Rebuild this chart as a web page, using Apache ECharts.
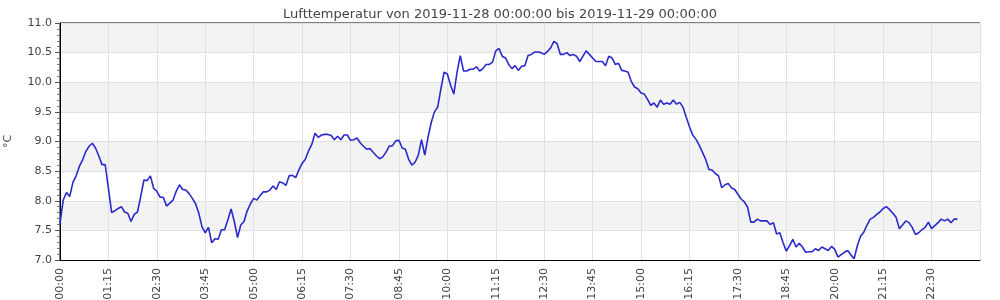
<!DOCTYPE html>
<html>
<head>
<meta charset="utf-8">
<script src="https://cdn.jsdelivr.net/npm/echarts@6/dist/echarts.min.js"></script>
<style>html,body{margin:0;padding:0;background:#fff}#c{width:1000px;height:300px}</style>
</head>
<body>
<div id="c"></div>
<script>
// categories: 5-minute steps from 00:00 to 23:45
const categories = [];
for (let m = 0; m <= 23 * 60 + 45; m += 5) {
  const h = Math.floor(m / 60), mm = m % 60;
  categories.push((h < 10 ? '0' : '') + h + ':' + (mm < 10 ? '0' : '') + mm);
}
const temperature = [
  7.62, 8.01, 8.14, 8.07, 8.31, 8.42, 8.58, 8.69, 8.83, 8.92,
  8.97, 8.89, 8.76, 8.61, 8.61, 8.21, 7.80, 7.83, 7.87, 7.90,
  7.81, 7.79, 7.65, 7.77, 7.81, 8.07, 8.35, 8.34, 8.42, 8.21,
  8.16, 8.06, 8.06, 7.91, 7.96, 8.01, 8.16, 8.27, 8.19, 8.18,
  8.12, 8.04, 7.95, 7.79, 7.56, 7.46, 7.55, 7.29, 7.36, 7.35,
  7.51, 7.51, 7.68, 7.86, 7.65, 7.38, 7.59, 7.65, 7.83, 7.95,
  8.04, 8.01, 8.09, 8.15, 8.15, 8.18, 8.25, 8.19, 8.32, 8.30,
  8.26, 8.42, 8.43, 8.39, 8.52, 8.63, 8.70, 8.84, 8.95, 9.14,
  9.07, 9.11, 9.12, 9.12, 9.10, 9.03, 9.09, 9.03, 9.11, 9.11,
  9.02, 9.03, 9.06, 8.98, 8.92, 8.87, 8.88, 8.82, 8.76, 8.71,
  8.74, 8.82, 8.92, 8.93, 9.01, 9.02, 8.89, 8.87, 8.70, 8.60,
  8.65, 8.77, 9.03, 8.77, 9.07, 9.32, 9.50, 9.58, 9.89, 10.17,
  10.14, 9.95, 9.80, 10.17, 10.45, 10.19, 10.19, 10.22, 10.22, 10.26,
  10.19, 10.23, 10.30, 10.30, 10.34, 10.53, 10.57, 10.44, 10.41, 10.30,
  10.23, 10.28, 10.20, 10.27, 10.28, 10.45, 10.47, 10.51, 10.51, 10.50,
  10.47, 10.52, 10.58, 10.69, 10.65, 10.47, 10.47, 10.50, 10.45, 10.47,
  10.44, 10.35, 10.44, 10.53, 10.47, 10.41, 10.35, 10.35, 10.35, 10.28,
  10.44, 10.41, 10.30, 10.32, 10.20, 10.19, 10.17, 10.01, 9.92, 9.89,
  9.82, 9.80, 9.71, 9.61, 9.65, 9.58, 9.70, 9.63, 9.65, 9.63,
  9.70, 9.63, 9.66, 9.58, 9.41, 9.25, 9.11, 9.04, 8.94, 8.82,
  8.70, 8.53, 8.52, 8.46, 8.42, 8.22, 8.27, 8.29, 8.22, 8.19,
  8.11, 8.03, 7.98, 7.89, 7.64, 7.64, 7.69, 7.66, 7.66, 7.66,
  7.60, 7.63, 7.44, 7.46, 7.29, 7.15, 7.24, 7.35, 7.22, 7.28,
  7.22, 7.13, 7.14, 7.14, 7.19, 7.16, 7.22, 7.19, 7.16, 7.23,
  7.18, 7.05, 7.09, 7.13, 7.16, 7.09, 7.02, 7.24, 7.40, 7.47,
  7.59, 7.69, 7.72, 7.77, 7.81, 7.87, 7.90, 7.85, 7.79, 7.72,
  7.53, 7.59, 7.66, 7.63, 7.55, 7.43, 7.46, 7.51, 7.55, 7.64,
  7.53, 7.58, 7.63, 7.69, 7.66, 7.69, 7.63, 7.69, 7.69
];
const titleText = 'Lufttemperatur von 2019-11-28 00:00:00 bis 2019-11-29 00:00:00';
const unitName = '°C';

const font = 'DejaVu Sans';
const chart = echarts.init(document.getElementById('c'), null, {renderer: 'canvas'});
chart.setOption({
  animation: false,
  backgroundColor: '#fff',
  title: {
    text: titleText, left: 'center', top: 3,
    textStyle: {fontFamily: font, fontSize: 13, fontWeight: 'normal', color: '#444'}
  },
  grid: {left: 60, right: 20, top: 23, bottom: 40, containLabel: false, outerBoundsMode: 'none',
    show: true, borderColor: '#000', borderWidth: 1, backgroundColor: 'transparent'},
  xAxis: {
    type: 'category', data: categories, boundaryGap: false,
    axisLine: {lineStyle: {color: '#000', width: 1}},
    axisTick: {show: false},
    axisLabel: {interval: 14, rotate: 90, margin: 8, fontFamily: font, fontSize: 11, color: '#444', showMaxLabel: false},
    splitLine: {show: true, interval: 14, lineStyle: {color: '#e0e0e0', width: 1}}
  },
  yAxis: {
    type: 'value', min: 7, max: 11, interval: 0.5,
    name: unitName, nameLocation: 'middle', nameGap: 46, nameRotate: 90,
    nameTextStyle: {fontFamily: font, fontSize: 11, color: '#444'},
    axisLine: {show: true, lineStyle: {color: '#000', width: 1}},
    axisTick: {show: true, length: 5, lineStyle: {color: '#555'}},
    minorTick: {show: true, splitNumber: 5, length: 3, lineStyle: {color: '#777'}},
    axisLabel: {fontFamily: font, fontSize: 11, color: '#444', margin: 8, formatter: v => v.toFixed(1)},
    splitLine: {show: true, lineStyle: {color: '#e0e0e0', width: 1}},
    splitArea: {show: true, areaStyle: {color: ['#ffffff', '#f3f3f3']}}
  },
  series: [{
    type: 'line', data: temperature, showSymbol: false, symbol: 'none',
    lineStyle: {color: '#2a2acc', width: 1.6}, itemStyle: {color: '#2a2acc'}
  }]
});
</script>
</body>
</html>
